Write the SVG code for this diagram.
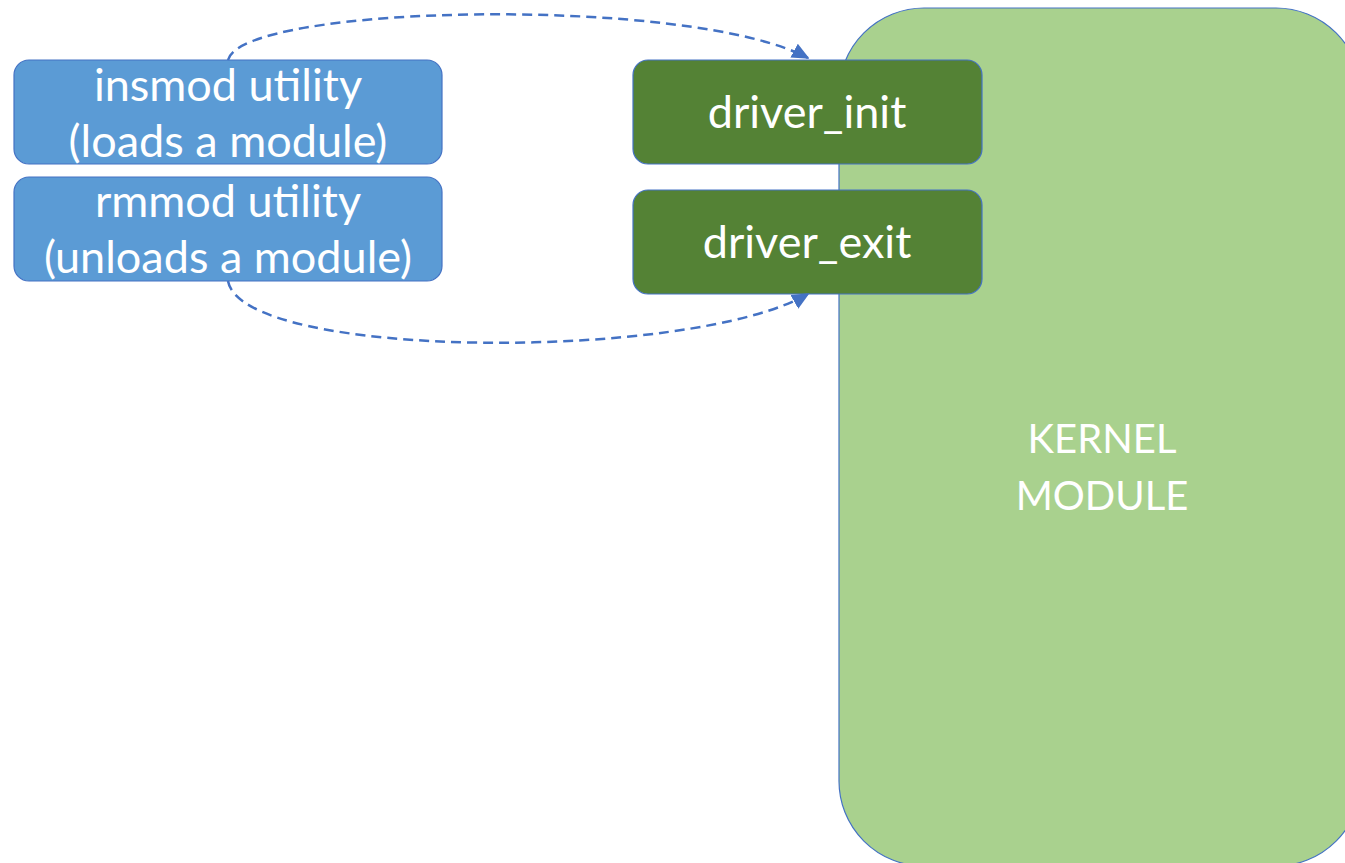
<svg xmlns="http://www.w3.org/2000/svg" width="1345" height="863" viewBox="0 0 1345 863">
<style>
.blue{fill:#5B9BD5;stroke:#4472C4;stroke-width:1.2}
.dg{fill:#548235;stroke:#4472C4;stroke-width:1.2}
.t{font-family:Lato,"Open Sans","Liberation Sans",sans-serif;fill:#fff;text-anchor:middle}
.c{fill:none;stroke:#4472C4;stroke-width:2.5;stroke-dasharray:10 6}
</style>
<defs>
<marker id="ah" viewBox="0 0 10 10" refX="9" refY="5" markerWidth="7" markerHeight="7" markerUnits="strokeWidth" orient="auto">
<path d="M0,0.5 L10,5 L0,9.5 z" fill="#4472C4"/>
</marker>
</defs>
<rect width="1345" height="863" fill="#fff"/>
<g id="kernel">
<rect x="839" y="8" width="522" height="858" rx="85" fill="#A9D18E" stroke="#4472C4" stroke-width="1.2"/>
<text class="t" font-size="40" x="1102" y="453">KERNEL</text>
<text class="t" font-size="40" x="1102" y="510">MODULE</text>
</g>
<g id="insmod">
<rect class="blue" x="14" y="60" width="428" height="104" rx="15"/>
<text class="t" font-size="45" x="228" y="101">insmod utility</text>
<text class="t" font-size="45" x="228" y="157">(loads a module)</text>
</g>
<g id="rmmod">
<rect class="blue" x="14" y="177" width="428" height="104" rx="15"/>
<text class="t" font-size="45" x="228" y="217">rmmod utility</text>
<text class="t" font-size="45" x="228" y="273">(unloads a module)</text>
</g>
<g id="driver_init">
<rect class="dg" x="633" y="60" width="349" height="104" rx="15"/>
<text class="t" font-size="45" x="807" y="128">driver_init</text>
</g>
<g id="driver_exit">
<rect class="dg" x="633" y="190" width="349" height="104" rx="15"/>
<text class="t" font-size="45" x="807" y="258">driver_exit</text>
</g>
<g id="connectors">
<path class="c" d="M228,60 C242,4 690,-5 808,58" marker-end="url(#ah)"/>
<path class="c" d="M228,281 C242,360 690,362 808,294" marker-end="url(#ah)"/>
</g>
</svg>
